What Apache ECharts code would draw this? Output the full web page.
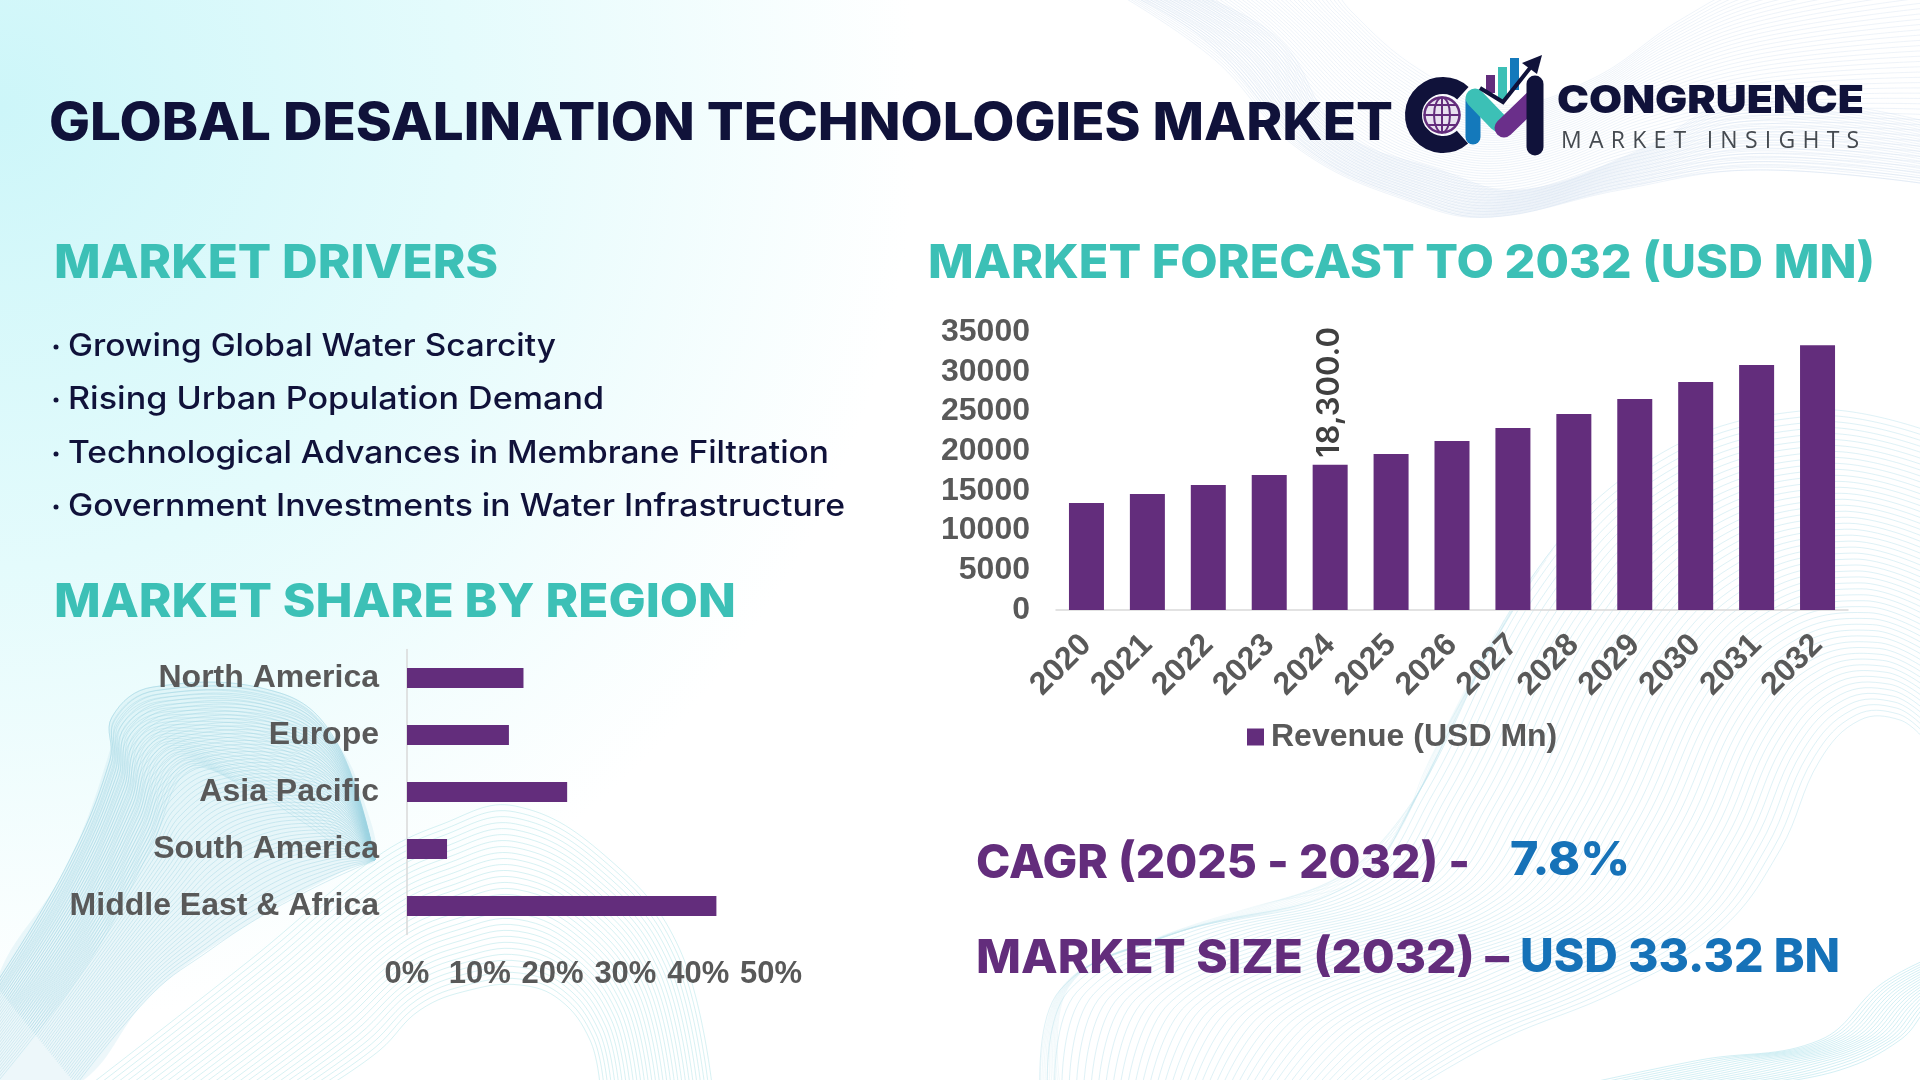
<!DOCTYPE html>
<html>
<head>
<meta charset="utf-8">
<title>Global Desalination Technologies Market</title>
<script src="https://cdn.jsdelivr.net/npm/echarts@6/dist/echarts.min.js"></script>
<style>
html,body{margin:0;padding:0;background:#fff;}
#chart{position:absolute;left:0;top:0;width:1920px;height:1080px;}
#insights{position:absolute;left:1561px;top:125px;font:400 23px "Open Sans",sans-serif;letter-spacing:7.25px;color:#454a50;white-space:nowrap;line-height:28px;}
</style>
</head>
<body>
<div id="chart"></div>
<div id="insights">MARKET INSIGHTS</div>
<script>
// chart data
var years=['2020','2021','2022','2023','2024','2025','2026','2027','2028','2029','2030','2031','2032'];
var revenue=[13470,14600,15740,17000,18300,19640,21280,22900,24680,26570,28700,30850,33320];
var labelledYear='2024';
var regions=['North America','Europe','Asia Pacific','South America','Middle East & Africa'];
var regionShare=[16,14,22,5.5,42.5];
var drivers=['Growing Global Water Scarcity','Rising Urban Population Demand','Technological Advances in Membrane Filtration','Government Investments in Water Infrastructure'];

var PURPLE='#632d7c',TEAL='#3cc0b6',NAVY='#10123a',BLUE='#1672b8',GREY='#595959';
var HEAD='Inter',AXIS='"Liberation Sans",Arial,sans-serif';

var measure=document.createElement('canvas').getContext('2d');

// text squeezed or stretched to the width it has in the picture
function txt(str,x,y,size,weight,color,w){
	measure.font=weight+' '+size+'px '+HEAD;
	return {type:'text',x:x,y:y,scaleX:w/measure.measureText(str).width,silent:true,z:20,
		style:{text:str,fontFamily:HEAD,fontSize:size,fontWeight:weight,fill:color,align:'left',verticalAlign:'middle'}};
}

// wave mesh in the background: n lines going from edge a to edge b
function ribbon(a,b,n,color,width){
	var out=[];
	for(var i=0;i<=n;i++){
		var t=i/n,pts=[];
		for(var k=0;k<a.length;k++){
			pts.push([a[k][0]+(b[k][0]-a[k][0])*t,a[k][1]+(b[k][1]-a[k][1])*t]);
		}
		out.push({type:'polyline',silent:true,z:-5,shape:{points:pts,smooth:0.4},style:{fill:null,stroke:color,lineWidth:width}});
	}
	return out;
}
function veil(points,color){
	return {type:'polygon',silent:true,z:-6,shape:{points:points,smooth:0.4},style:{fill:color}};
}

function line(x1,y1,x2,y2,color,w){
	return {type:'line',silent:true,z:21,shape:{x1:x1,y1:y1,x2:x2,y2:y2},style:{stroke:color,lineWidth:w,lineCap:'round'}};
}
function box(x,y,w,h,color){
	return {type:'rect',silent:true,z:21,shape:{x:x,y:y,width:w,height:h},style:{fill:color}};
}

var bg=[{type:'rect',silent:true,z:-10,shape:{x:0,y:0,width:1920,height:1080},
	style:{fill:new echarts.graphic.RadialGradient(0,0.1,0.85,[
		{offset:0,color:'#cdf6f9'},{offset:0.5,color:'#e4fbfc'},{offset:1,color:'#ffffff'}])}}];

// top right
bg=bg.concat(ribbon(
	[[1131,-5],[1205,40],[1309,150],[1414,200],[1492,217],[1623,187],[1754,170],[1920,183]],
	[[1330,-20],[1350,10],[1420,70],[1500,105],[1590,80],[1680,20],[1760,-20],[1920,-60]],46,'rgba(205,220,238,0.34)',1));
bg=bg.concat(ribbon(
	[[1200,-5],[1280,40],[1340,130],[1440,170],[1520,190],[1640,150],[1740,100],[1920,120]],
	[[1120,-5],[1215,60],[1300,150],[1420,205],[1490,217],[1620,190],[1750,170],[1920,183]],26,'rgba(205,220,238,0.34)',1));

// bottom right
bg=bg.concat(ribbon(
	[[1040,1085],[1060,990],[1176,933],[1353,883],[1420,790],[1532,577],[1655,457],[1810,410],[1925,430]],
	[[1420,1085],[1500,1040],[1620,990],[1720,930],[1780,850],[1820,760],[1860,720],[1900,720],[1925,740]],52,'rgba(190,228,238,0.5)',1));
bg=bg.concat(ribbon(
	[[1040,1085],[1060,990],[1140,945],[1260,905],[1360,880],[1400,830],[1425,770],[1450,720],[1490,640]],
	[[1060,1085],[1070,985],[1170,935],[1350,885],[1420,790],[1450,730],[1490,650],[1530,580],[1560,540]],10,'rgba(190,228,238,0.22)',1));
bg=bg.concat(ribbon(
	[[1580,1085],[1700,1060],[1820,1040],[1880,985],[1925,960]],
	[[1760,1085],[1840,1070],[1900,1040],[1925,1010],[1930,1000]],18,'rgba(175,225,235,0.55)',1));

// bottom left, the folded ribbon
bg.push(veil([[-5,985],[66,867],[110,750],[112,717],[153,687],[280,693],[337,743],[367,810],[375,860],[352,867],[255,920],[153,993],[76,1085],[-5,1085]],'rgba(190,226,236,0.28)'));
bg=bg.concat(ribbon(
	[[-5,985],[66,867],[110,760],[112,717],[153,687],[280,693],[337,743],[375,860]],
	[[76,1085],[153,993],[210,950],[255,920],[300,895],[330,880],[352,870],[375,860]],56,'rgba(155,210,225,0.4)',1));
bg=bg.concat(ribbon(
	[[-5,985],[66,867],[110,760],[112,717],[153,687],[280,693],[337,743],[375,860]],
	[[-5,1085],[90,960],[150,850],[190,770],[250,790],[300,820],[345,850],[375,860]],30,'rgba(155,210,225,0.36)',1));

// bottom left, the arches
bg=bg.concat(ribbon(
	[[90,1085],[250,960],[375,858],[440,825],[515,806],[610,860],[680,950],[712,1085]],
	[[330,1085],[380,1050],[420,1010],[470,990],[520,985],[560,1000],[590,1040],[600,1085]],30,'rgba(175,228,232,0.5)',1));

var headings=[
	txt('GLOBAL DESALINATION TECHNOLOGIES MARKET',49,124,52,800,NAVY,1344),
	txt('MARKET DRIVERS',54,264,47,800,TEAL,444),
	txt('MARKET SHARE BY REGION',54,603,47,800,TEAL,682),
	txt('MARKET FORECAST TO 2032 (USD MN)',928,264,47,800,TEAL,947),
	txt('CAGR (2025 - 2032) -',976,864,47,800,PURPLE,494),
	txt('7.8%',1510,861,47,800,BLUE,120),
	txt('MARKET SIZE (2032) –',976,959,47,800,PURPLE,533),
	txt('USD 33.32 BN',1520,958,47,800,BLUE,320),
	txt('CONGRUENCE',1557,102,38,900,NAVY,307)
];
var bulletY=[347,400,454,507],bulletW=[488,536,761,777];
for(var i=0;i<drivers.length;i++){
	headings.push({type:'circle',silent:true,z:20,shape:{cx:56,cy:bulletY[i],r:2.5},style:{fill:NAVY}});
	headings.push(txt(drivers[i],68,bulletY[i],31,500,NAVY,bulletW[i]));
}

// logo
var logo=[
	{type:'arc',silent:true,z:21,shape:{cx:1443,cy:115,r:29.5,startAngle:0.85,endAngle:5.45,clockwise:true},style:{fill:null,stroke:NAVY,lineWidth:17}},
	{type:'circle',silent:true,z:21,shape:{cx:1442,cy:115,r:17.5},style:{fill:'#e8e2f0',stroke:PURPLE,lineWidth:2.5}},
	{type:'ellipse',silent:true,z:21,shape:{cx:1442,cy:115,rx:8,ry:17.5},style:{fill:null,stroke:PURPLE,lineWidth:2}},
	line(1424.5,115,1459.5,115,PURPLE,2),line(1428,105,1456,105,PURPLE,2),line(1428,125,1456,125,PURPLE,2),line(1442,97.5,1442,132.5,PURPLE,2),
	line(1473,100,1473,137,'#1479bb',15),
	box(1486,75,9,18,PURPLE),box(1498,67,9,33,TEAL),box(1510,58,9,32,'#1479bb'),
	line(1475,98,1498,122,TEAL,19),
	line(1504,128,1533,100,'#6a2f8a',19),
	line(1535,84,1535,147,NAVY,17),
	{type:'polyline',silent:true,z:22,shape:{points:[[1480,88],[1503,102],[1530,68]]},style:{fill:null,stroke:NAVY,lineWidth:4}},
	{type:'polygon',silent:true,z:22,shape:{points:[[1542,55],[1522,63],[1537,74]]},style:{fill:NAVY}}
];

var revenueData=[];
for(var j=0;j<revenue.length;j++){
	if(years[j]==labelledYear){
		revenueData.push({value:revenue[j],label:{show:true,position:'top',rotate:90,distance:7,align:'left',verticalAlign:'middle',
			formatter:function(p){return p.value.toLocaleString('en-US',{minimumFractionDigits:1});},
			fontFamily:'Inter',fontWeight:600,fontSize:31,color:'#404040'}});
	}else{
		revenueData.push(revenue[j]);
	}
}

var axisText={color:GREY,fontFamily:AXIS,fontWeight:'bold',fontSize:32};

var chart=echarts.init(document.getElementById('chart'));
chart.setOption({
	animation:false,
	backgroundColor:'transparent',
	legend:{data:['Revenue (USD Mn)'],left:1242,top:716,icon:'rect',itemWidth:17,itemHeight:17,itemGap:0,
		textStyle:{color:GREY,fontFamily:AXIS,fontWeight:'bold',fontSize:32,padding:[0,0,0,2]}},
	grid:[
		{left:1056,top:332,width:792,height:278,containLabel:false},
		{left:407,top:649.5,width:364,height:285,containLabel:false}
	],
	xAxis:[
		{type:'category',gridIndex:0,data:years,
			axisLine:{lineStyle:{color:'#d9d9d9',width:1.5}},axisTick:{show:false},
			axisLabel:Object.assign({},axisText,{rotate:45,margin:30,interval:0})},
		{type:'value',gridIndex:1,min:0,max:50,interval:10,
			axisLine:{show:false},axisTick:{show:false},splitLine:{show:false},
			axisLabel:Object.assign({},axisText,{margin:24,fontSize:31,formatter:'{value}%'})}
	],
	yAxis:[
		{type:'value',gridIndex:0,min:0,max:35000,interval:5000,
			axisLine:{show:false},axisTick:{show:false},splitLine:{show:false},
			axisLabel:Object.assign({},axisText,{margin:26,padding:[4,0,0,0],formatter:function(v){return String(v);}})},
		{type:'category',gridIndex:1,data:regions,inverse:true,
			axisLine:{lineStyle:{color:'#d9d9d9',width:1.5}},axisTick:{show:false},
			axisLabel:Object.assign({},axisText,{margin:28,interval:0,padding:[3,0,0,0]})}
	],
	series:[
		{name:'Revenue (USD Mn)',type:'bar',xAxisIndex:0,yAxisIndex:0,data:revenueData,barWidth:35,itemStyle:{color:PURPLE}},
		{name:'Share',type:'bar',xAxisIndex:1,yAxisIndex:1,data:regionShare,barWidth:20,itemStyle:{color:PURPLE}}
	],
	graphic:{elements:bg.concat(headings,logo)}
});
</script>
</body>
</html>
